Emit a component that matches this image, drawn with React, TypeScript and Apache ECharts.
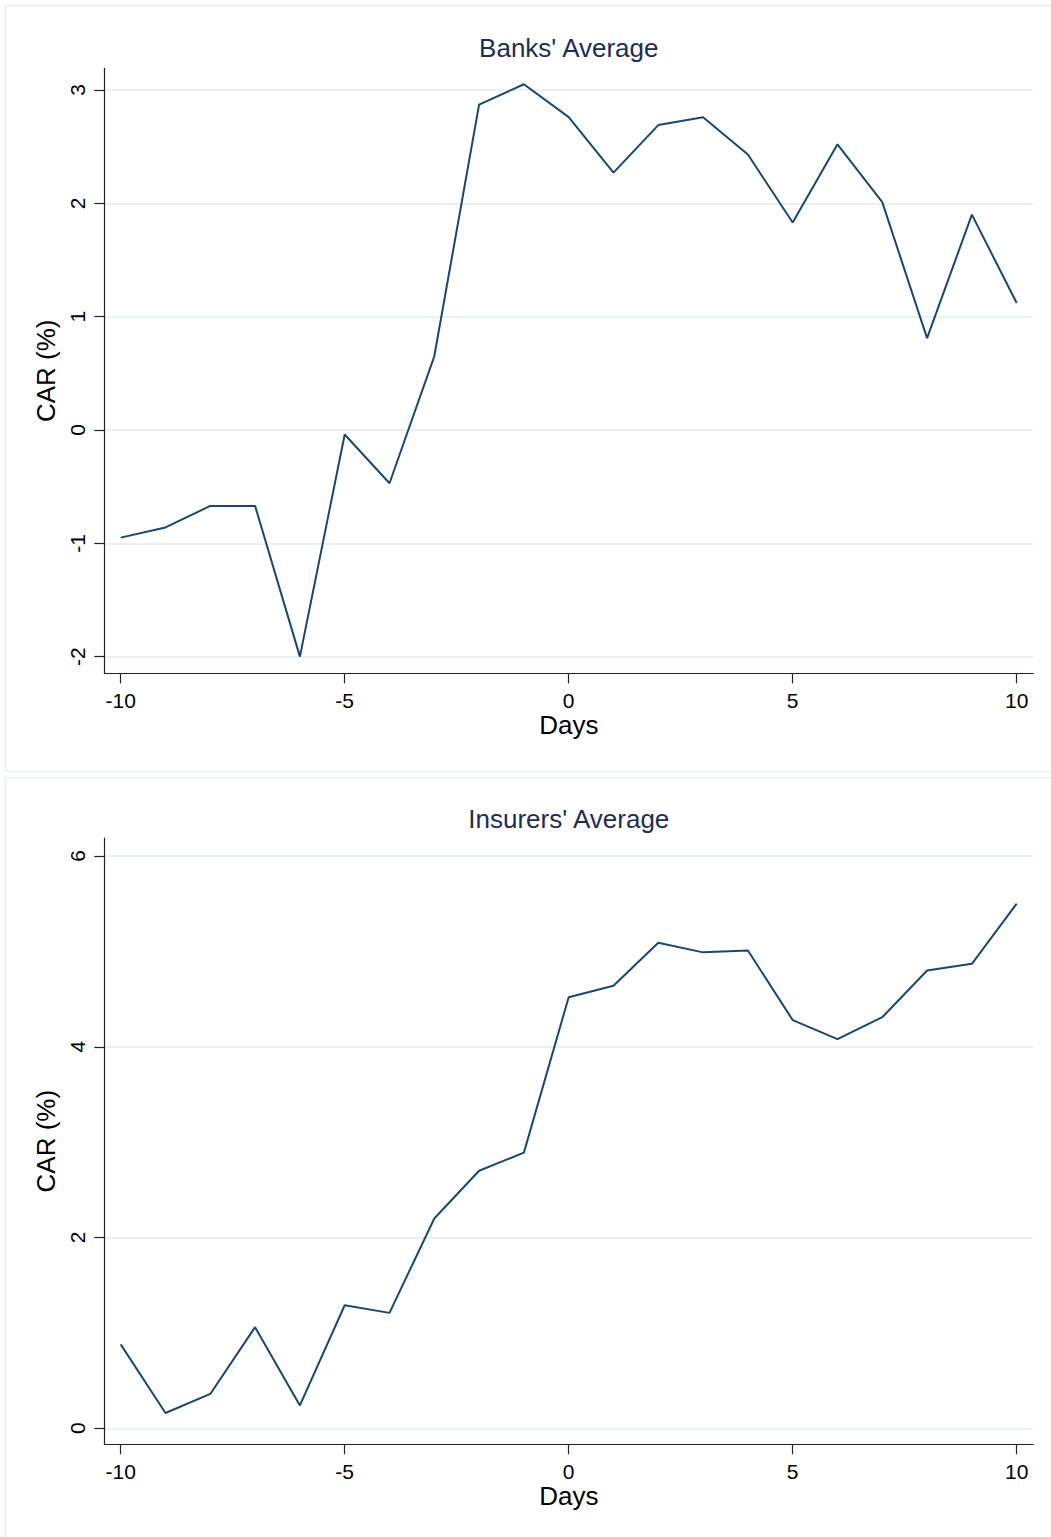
import React, { useEffect, useRef } from "react";
import * as echarts from "echarts";

const days = [-10, -9, -8, -7, -6, -5, -4, -3, -2, -1, 0, 1, 2, 3, 4, 5, 6, 7, 8, 9, 10];
const banksCAR = [-0.95, -0.86, -0.67, -0.67, -2.0, -0.04, -0.47, 0.65, 2.87, 3.05, 2.76, 2.27, 2.69, 2.76, 2.43, 1.83, 2.52, 2.01, 0.81, 1.9, 1.12];
const insurersCAR = [0.88, 0.16, 0.36, 1.06, 0.24, 1.29, 1.21, 2.2, 2.7, 2.89, 4.52, 4.64, 5.09, 4.99, 5.01, 4.28, 4.08, 4.31, 4.8, 4.87, 5.5];
const xTicks = [-10, -5, 0, 5, 10];
const banksYTicks = [-2, -1, 0, 1, 2, 3];
const insurersYTicks = [0, 2, 4, 6];
const panelTitles = ["Banks' Average", "Insurers' Average"];
const xAxisName = "Days";
const yAxisName = "CAR (%)";

const FONT = "'Liberation Sans', Arial, Helvetica, sans-serif";
const LINE = "#1a476f";
const GRID = "#e8f0f1";
const AXIS = "#222";
const TITLE = "#1e2d53";

export default function App() {
  const ref = useRef<HTMLDivElement>(null);
  useEffect(() => {
    if (!ref.current) return;
    const chart = echarts.init(ref.current, null, { renderer: "svg" });

    const grids = [
      { left: 104.3, right: 17.7, top: 68.3, height: 605 },
      { left: 104.3, right: 17.7, top: 838, height: 606.3 },
    ];
    const yRanges = [
      { min: -2.147, max: 3.191, ticks: banksYTicks },
      { min: -0.168, max: 6.189, ticks: insurersYTicks },
    ];
    const titleY = [48, 819];

    const xAxes = grids.map((_, i) => ({
      gridIndex: i,
      type: "value",
      min: -10.366,
      max: 10.371,
      axisLine: { show: true, onZero: false, lineStyle: { color: AXIS, width: 1.2 } },
      axisTick: { show: true, length: 10, customValues: xTicks, lineStyle: { color: AXIS, width: 1.2 } },
      axisLabel: { customValues: xTicks, margin: 17, fontSize: 21, color: "#000", fontFamily: FONT },
      splitLine: { show: false },
      name: xAxisName,
      nameLocation: "middle",
      nameGap: 39,
      nameTextStyle: { fontSize: 26, color: "#000", fontFamily: FONT },
    }));

    const yAxes = yRanges.map((r, i) => ({
      gridIndex: i,
      type: "value",
      min: r.min,
      max: r.max,
      axisLine: { show: true, onZero: false, lineStyle: { color: AXIS, width: 1.2 } },
      axisTick: { show: true, length: 10, customValues: r.ticks, lineStyle: { color: AXIS, width: 1.2 } },
      axisLabel: { customValues: r.ticks, rotate: 90, margin: 16, fontSize: 21, color: "#000", fontFamily: FONT },
      splitLine: { show: true, lineStyle: { color: GRID, width: 2 } },
      name: yAxisName,
      nameLocation: "middle",
      nameGap: 42,
      nameRotate: 90,
      nameTextStyle: { fontSize: 26, color: "#000", fontFamily: FONT },
    }));

    const seriesData = [banksCAR, insurersCAR];

    chart.setOption({
      animation: false,
      backgroundColor: "#fff",
      graphic: [
        { type: "rect", shape: { x: 5.5, y: 5.5, width: 1060, height: 766 }, style: { fill: "none", stroke: GRID, lineWidth: 1.5 }, z: -10 },
        { type: "rect", shape: { x: 5.5, y: 777.5, width: 1060, height: 780 }, style: { fill: "none", stroke: GRID, lineWidth: 1.5 }, z: -10 },
        ...panelTitles.map((t, i) => ({
          type: "text",
          x: 568.8,
          y: titleY[i],
          style: {
            text: t,
            fontSize: 26,
            fontFamily: FONT,
            fill: TITLE,
            textAlign: "center",
            textVerticalAlign: "middle",
          },
        })),
      ],
      grid: grids,
      xAxis: xAxes,
      yAxis: yAxes,
      series: seriesData.map((vals, i) => ({
        type: "line",
        xAxisIndex: i,
        yAxisIndex: i,
        data: days.map((d, j) => [d, vals[j]]),
        showSymbol: false,
        symbol: "none",
        lineStyle: { color: LINE, width: 2 },
        silent: true,
      })),
    });
    return () => chart.dispose();
  }, []);
  return (
    <div
      ref={ref}
      style={{ position: "absolute", left: 0, top: 0, width: 1051, height: 1537 }}
    />
  );
}
